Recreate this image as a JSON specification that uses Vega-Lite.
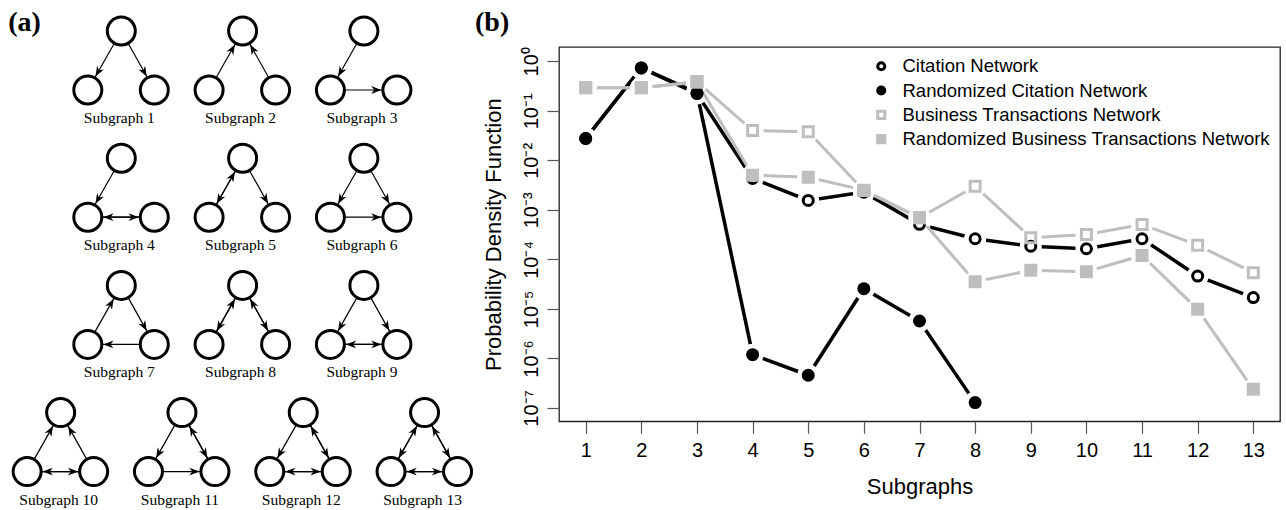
{
  "$schema": "https://vega.github.io/schema/vega-lite/v6.json",
  "background": "white",
  "padding": 0,
  "spacing": 89,
  "bounds": "flush",
  "resolve": {
    "scale": {"shape": "independent", "stroke": "independent", "fill": "independent"},
    "legend": {"shape": "independent", "stroke": "independent", "fill": "independent"}
  },
  "config": {
    "view": {"stroke": null},
    "title": {"font": "Liberation Serif", "fontSize": 28, "fontWeight": "bold", "anchor": "start", "frame": "group", "offset": 10, "lineHeight": 7.9, "baseline": "alphabetic", "color": "black"},
    "axis": {"labelFont": "Liberation Sans", "titleFont": "Liberation Sans", "labelColor": "black", "titleColor": "black", "titleFontWeight": "normal", "tickColor": "#555", "tickWidth": 1.2, "domain": false, "grid": false, "tickSize": 12, "labelOverlap": false, "labelFlush": false},
    "legend": {"orient": "top-right", "offset": 10, "padding": 0, "labelFont": "Liberation Sans", "labelFontSize": 18.5, "labelColor": "black", "symbolStrokeWidth": 3, "symbolSize": 50, "rowPadding": 4.3, "labelOffset": 12, "labelLimit": 600}
  },
  "datasets": {
    "sg": [
      {"sg": 1, "col": 1, "row": 1, "nodes": ["T", "L", "R"]},
      {"sg": 2, "col": 2, "row": 1, "nodes": ["T", "L", "R"]},
      {"sg": 3, "col": 3, "row": 1, "nodes": ["T", "L", "R"]},
      {"sg": 4, "col": 1, "row": 2, "nodes": ["T", "L", "R"]},
      {"sg": 5, "col": 2, "row": 2, "nodes": ["T", "L", "R"]},
      {"sg": 6, "col": 3, "row": 2, "nodes": ["T", "L", "R"]},
      {"sg": 7, "col": 1, "row": 3, "nodes": ["T", "L", "R"]},
      {"sg": 8, "col": 2, "row": 3, "nodes": ["T", "L", "R"]},
      {"sg": 9, "col": 3, "row": 3, "nodes": ["T", "L", "R"]},
      {"sg": 10, "col": 0.5, "row": 4, "nodes": ["T", "L", "R"]},
      {"sg": 11, "col": 1.5, "row": 4, "nodes": ["T", "L", "R"]},
      {"sg": 12, "col": 2.5, "row": 4, "nodes": ["T", "L", "R"]},
      {"sg": 13, "col": 3.5, "row": 4, "nodes": ["T", "L", "R"]}
    ],
    "edges": [
      {"sg": 1, "a": "T", "b": "L"}, {"sg": 1, "a": "T", "b": "R"},
      {"sg": 2, "a": "L", "b": "T"}, {"sg": 2, "a": "R", "b": "T"},
      {"sg": 3, "a": "T", "b": "L"}, {"sg": 3, "a": "L", "b": "R"},
      {"sg": 4, "a": "T", "b": "L"}, {"sg": 4, "a": "L", "b": "R"}, {"sg": 4, "a": "R", "b": "L"},
      {"sg": 5, "a": "T", "b": "L"}, {"sg": 5, "a": "L", "b": "T"}, {"sg": 5, "a": "T", "b": "R"},
      {"sg": 6, "a": "T", "b": "L"}, {"sg": 6, "a": "T", "b": "R"}, {"sg": 6, "a": "L", "b": "R"},
      {"sg": 7, "a": "L", "b": "T"}, {"sg": 7, "a": "T", "b": "R"}, {"sg": 7, "a": "R", "b": "L"},
      {"sg": 8, "a": "T", "b": "L"}, {"sg": 8, "a": "L", "b": "T"}, {"sg": 8, "a": "T", "b": "R"}, {"sg": 8, "a": "R", "b": "T"},
      {"sg": 9, "a": "T", "b": "L"}, {"sg": 9, "a": "T", "b": "R"}, {"sg": 9, "a": "L", "b": "R"}, {"sg": 9, "a": "R", "b": "L"},
      {"sg": 10, "a": "L", "b": "T"}, {"sg": 10, "a": "R", "b": "T"}, {"sg": 10, "a": "L", "b": "R"}, {"sg": 10, "a": "R", "b": "L"},
      {"sg": 11, "a": "T", "b": "L"}, {"sg": 11, "a": "T", "b": "R"}, {"sg": 11, "a": "R", "b": "T"}, {"sg": 11, "a": "L", "b": "R"},
      {"sg": 12, "a": "T", "b": "L"}, {"sg": 12, "a": "T", "b": "R"}, {"sg": 12, "a": "R", "b": "T"}, {"sg": 12, "a": "L", "b": "R"}, {"sg": 12, "a": "R", "b": "L"},
      {"sg": 13, "a": "T", "b": "L"}, {"sg": 13, "a": "L", "b": "T"}, {"sg": 13, "a": "T", "b": "R"}, {"sg": 13, "a": "R", "b": "T"}, {"sg": 13, "a": "L", "b": "R"}, {"sg": 13, "a": "R", "b": "L"}
    ],
    "pdf": [
      {"series": "Citation Network", "s": 1, "p": 0.0276},
      {"series": "Citation Network", "s": 2, "p": 0.736},
      {"series": "Citation Network", "s": 3, "p": 0.223},
      {"series": "Citation Network", "s": 4, "p": 0.0043},
      {"series": "Citation Network", "s": 5, "p": 0.00155},
      {"series": "Citation Network", "s": 6, "p": 0.00228},
      {"series": "Citation Network", "s": 7, "p": 0.00051},
      {"series": "Citation Network", "s": 8, "p": 0.000261},
      {"series": "Citation Network", "s": 9, "p": 0.000185},
      {"series": "Citation Network", "s": 10, "p": 0.000164},
      {"series": "Citation Network", "s": 11, "p": 0.000261},
      {"series": "Citation Network", "s": 12, "p": 0.000046},
      {"series": "Citation Network", "s": 13, "p": 0.0000169},
      {"series": "Randomized Citation Network", "s": 1, "p": 0.0276},
      {"series": "Randomized Citation Network", "s": 2, "p": 0.736},
      {"series": "Randomized Citation Network", "s": 3, "p": 0.231},
      {"series": "Randomized Citation Network", "s": 4, "p": 0.00000119},
      {"series": "Randomized Citation Network", "s": 5, "p": 0.000000457},
      {"series": "Randomized Citation Network", "s": 6, "p": 0.0000256},
      {"series": "Randomized Citation Network", "s": 7, "p": 0.00000569},
      {"series": "Randomized Citation Network", "s": 8, "p": 0.000000128},
      {"series": "Business Transactions Network", "s": 1, "p": 0.291},
      {"series": "Business Transactions Network", "s": 2, "p": 0.291},
      {"series": "Business Transactions Network", "s": 3, "p": 0.39},
      {"series": "Business Transactions Network", "s": 4, "p": 0.04},
      {"series": "Business Transactions Network", "s": 5, "p": 0.0377},
      {"series": "Business Transactions Network", "s": 6, "p": 0.00247},
      {"series": "Business Transactions Network", "s": 7, "p": 0.000693},
      {"series": "Business Transactions Network", "s": 8, "p": 0.003},
      {"series": "Business Transactions Network", "s": 9, "p": 0.000274},
      {"series": "Business Transactions Network", "s": 10, "p": 0.000319},
      {"series": "Business Transactions Network", "s": 11, "p": 0.000508},
      {"series": "Business Transactions Network", "s": 12, "p": 0.000194},
      {"series": "Business Transactions Network", "s": 13, "p": 0.0000539},
      {"series": "Randomized Business Transactions Network", "s": 1, "p": 0.291},
      {"series": "Randomized Business Transactions Network", "s": 2, "p": 0.291},
      {"series": "Randomized Business Transactions Network", "s": 3, "p": 0.377},
      {"series": "Randomized Business Transactions Network", "s": 4, "p": 0.00501},
      {"series": "Randomized Business Transactions Network", "s": 5, "p": 0.00457},
      {"series": "Randomized Business Transactions Network", "s": 6, "p": 0.0025},
      {"series": "Randomized Business Transactions Network", "s": 7, "p": 0.000693},
      {"series": "Randomized Business Transactions Network", "s": 8, "p": 0.0000355},
      {"series": "Randomized Business Transactions Network", "s": 9, "p": 0.00006},
      {"series": "Randomized Business Transactions Network", "s": 10, "p": 0.0000564},
      {"series": "Randomized Business Transactions Network", "s": 11, "p": 0.00012},
      {"series": "Randomized Business Transactions Network", "s": 12, "p": 0.0000098},
      {"series": "Randomized Business Transactions Network", "s": 13, "p": 0.000000238}
    ]
  },
  "hconcat": [
    {
      "width": 470,
      "height": 462.3,
      "layer": [
        {
          "data": {"name": "edges"},
          "transform": [
            {"lookup": "sg", "from": {"data": {"name": "sg"}, "key": "sg", "fields": ["col", "row"]}},
            {"calculate": "121.3*datum.col", "as": "cx"},
            {"calculate": "31.7+127.2*(datum.row-1)", "as": "ty"},
            {"calculate": "datum.cx+(datum.a=='L'?-33.5:datum.a=='R'?33:0)", "as": "ax"},
            {"calculate": "datum.ty+(datum.a=='T'?0:59)", "as": "ay"},
            {"calculate": "datum.cx+(datum.b=='L'?-33.5:datum.b=='R'?33:0)", "as": "bx"},
            {"calculate": "datum.ty+(datum.b=='T'?0:59)", "as": "by"}
          ],
          "mark": {"type": "rule", "strokeWidth": 1.2, "color": "black"},
          "encoding": {
            "x": {"field": "ax", "type": "quantitative", "scale": {"domain": [0, 470], "nice": false, "zero": false}, "axis": null},
            "y": {"field": "ay", "type": "quantitative", "scale": {"domain": [47.7, 510], "reverse": true, "nice": false, "zero": false}, "axis": null},
            "x2": {"field": "bx"},
            "y2": {"field": "by"}
          }
        },
        {
          "data": {"name": "sg"},
          "transform": [
            {"flatten": ["nodes"], "as": ["role"]},
            {"calculate": "121.3*datum.col+(datum.role=='L'?-33.5:datum.role=='R'?33:0)", "as": "nx"},
            {"calculate": "31.7+127.2*(datum.row-1)+(datum.role=='T'?0:59)", "as": "ny"}
          ],
          "mark": {"type": "point", "shape": "circle", "filled": true, "fill": "white", "stroke": "black", "strokeWidth": 3, "size": 784, "opacity": 1},
          "encoding": {
            "x": {"field": "nx", "type": "quantitative", "scale": {"domain": [0, 470], "nice": false, "zero": false}, "axis": null},
            "y": {"field": "ny", "type": "quantitative", "scale": {"domain": [47.7, 510], "reverse": true, "nice": false, "zero": false}, "axis": null}
          }
        },
        {
          "data": {"name": "edges"},
          "transform": [
            {"lookup": "sg", "from": {"data": {"name": "sg"}, "key": "sg", "fields": ["col", "row"]}},
            {"calculate": "121.3*datum.col", "as": "cx"},
            {"calculate": "31.7+127.2*(datum.row-1)", "as": "ty"},
            {"calculate": "datum.cx+(datum.a=='L'?-33.5:datum.a=='R'?33:0)", "as": "ax"},
            {"calculate": "datum.ty+(datum.a=='T'?0:59)", "as": "ay"},
            {"calculate": "datum.cx+(datum.b=='L'?-33.5:datum.b=='R'?33:0)", "as": "bx"},
            {"calculate": "datum.ty+(datum.b=='T'?0:59)", "as": "by"},
            {"calculate": "sqrt(pow(datum.bx-datum.ax,2)+pow(datum.by-datum.ay,2))", "as": "len"},
            {"calculate": "(datum.bx-datum.ax)/datum.len", "as": "ux"},
            {"calculate": "(datum.by-datum.ay)/datum.len", "as": "uy"},
            {"calculate": "datum.bx-15.5*datum.ux", "as": "tx"},
            {"calculate": "datum.by-15.5*datum.uy", "as": "tyy"},
            {"calculate": "atan2(datum.ux,-datum.uy)*180/PI", "as": "ang"}
          ],
          "mark": {"type": "point", "shape": "M0,0L0.65,1.7L0,1.2L-0.65,1.7Z", "filled": true, "color": "black", "size": 144, "strokeWidth": 0, "opacity": 1},
          "encoding": {
            "x": {"field": "tx", "type": "quantitative", "scale": {"domain": [0, 470], "nice": false, "zero": false}, "axis": null},
            "y": {"field": "tyy", "type": "quantitative", "scale": {"domain": [47.7, 510], "reverse": true, "nice": false, "zero": false}, "axis": null},
            "angle": {"field": "ang", "type": "quantitative", "scale": null}
          }
        },
        {
          "data": {"name": "sg"},
          "transform": [
            {"calculate": "121.3*datum.col-2", "as": "lx"},
            {"calculate": "31.7+127.2*(datum.row-1)+87", "as": "ly"},
            {"calculate": "'Subgraph ' + datum.sg", "as": "lab"}
          ],
          "mark": {"type": "text", "font": "Liberation Serif", "fontSize": 15.5, "align": "center", "baseline": "middle", "color": "black"},
          "encoding": {
            "x": {"field": "lx", "type": "quantitative", "scale": {"domain": [0, 470], "nice": false, "zero": false}, "axis": null},
            "y": {"field": "ly", "type": "quantitative", "scale": {"domain": [47.7, 510], "reverse": true, "nice": false, "zero": false}, "axis": null},
            "text": {"field": "lab"}
          }
        },
        {
          "data": {"values": [{"panel": "(a)"}]},
          "mark": {"type": "text", "font": "Liberation Serif", "fontSize": 28, "fontWeight": "bold", "align": "left", "baseline": "alphabetic", "color": "black"},
          "encoding": {
            "x": {"datum": 8.3, "type": "quantitative", "scale": {"domain": [0, 470], "nice": false, "zero": false}, "axis": null},
            "y": {"datum": 32, "type": "quantitative", "scale": {"domain": [47.7, 510], "reverse": true, "nice": false, "zero": false}, "axis": null},
            "text": {"field": "panel"}
          }
        }
      ]
    },
    {
      "title": {"text": ["", "(b)"], "dx": -84},
      "width": 721,
      "height": 374.3,
      "view": {"stroke": "#222", "strokeWidth": 1.3},
      "data": {"name": "pdf"},
      "encoding": {
        "x": {"field": "s", "type": "quantitative", "scale": {"domain": [0.52, 13.48], "nice": false, "zero": false},
          "axis": {"values": [1,2,3,4,5,6,7,8,9,10,11,12,13], "labelFontSize": 20, "labelPadding": 7, "labelAngle": 0, "title": "Subgraphs", "titleFontSize": 22, "titlePadding": 16}},
        "y": {"field": "p", "type": "quantitative", "scale": {"type": "log", "domain": [5.37e-8, 1.945], "nice": false},
          "axis": {"values": [1, 0.1, 0.01, 0.001, 0.0001, 0.00001, 0.000001, 0.0000001], "labelExpr": "['10⁰','10⁻¹','10⁻²','10⁻³','10⁻⁴','10⁻⁵','10⁻⁶','10⁻⁷'][round(-log(datum.value)/LN10)]", "labelAngle": -90, "labelAlign": "center", "labelBaseline": "bottom", "labelPadding": 6, "labelFontSize": 20, "title": "Probability Density Function", "titleFontSize": 22, "titlePadding": 16}}
      },
      "layer": [
        {
          "transform": [{"filter": "indexof(datum.series, 'Citation') >= 0"}],
          "mark": {"type": "line", "color": "black", "strokeWidth": 3.5},
          "encoding": {"detail": {"field": "series"}}
        },
        {
          "transform": [{"filter": "indexof(datum.series, 'Citation') >= 0"}],
          "mark": {"type": "point", "shape": "circle", "filled": true, "color": "white", "size": 484, "strokeWidth": 0, "opacity": 1}
        },
        {
          "transform": [{"filter": "indexof(datum.series, 'Business') >= 0"}],
          "mark": {"type": "line", "color": "#bebebe", "strokeWidth": 3},
          "encoding": {"detail": {"field": "series"}}
        },
        {
          "transform": [{"filter": "indexof(datum.series, 'Business') >= 0"}],
          "mark": {"type": "point", "shape": "circle", "filled": true, "color": "white", "size": 484, "strokeWidth": 0, "opacity": 1}
        },
        {
          "transform": [{"filter": "indexof(datum.series, 'Citation') >= 0"}],
          "mark": {"type": "point", "strokeWidth": 3, "size": 100, "opacity": 1},
          "encoding": {
            "shape": {"field": "series", "type": "nominal", "scale": {"domain": ["Citation Network", "Randomized Citation Network", "Business Transactions Network", "Randomized Business Transactions Network"], "range": ["circle", "circle", "square", "square"]}, "legend": {"title": null}},
            "stroke": {"field": "series", "type": "nominal", "scale": {"domain": ["Citation Network", "Randomized Citation Network", "Business Transactions Network", "Randomized Business Transactions Network"], "range": ["black", "black", "#bebebe", "#bebebe"]}, "legend": {"title": null}},
            "fill": {"field": "series", "type": "nominal", "scale": {"domain": ["Citation Network", "Randomized Citation Network", "Business Transactions Network", "Randomized Business Transactions Network"], "range": ["transparent", "black", "transparent", "#bebebe"]}, "legend": {"title": null}}
          }
        },
        {
          "transform": [{"filter": "indexof(datum.series, 'Business') >= 0"}],
          "mark": {"type": "point", "strokeWidth": 3, "size": 100, "opacity": 1},
          "encoding": {
            "shape": {"field": "series", "type": "nominal", "legend": {"title": null}},
            "stroke": {"field": "series", "type": "nominal", "legend": {"title": null}},
            "fill": {"field": "series", "type": "nominal", "legend": {"title": null}}
          }
        }
      ]
    }
  ]
}
